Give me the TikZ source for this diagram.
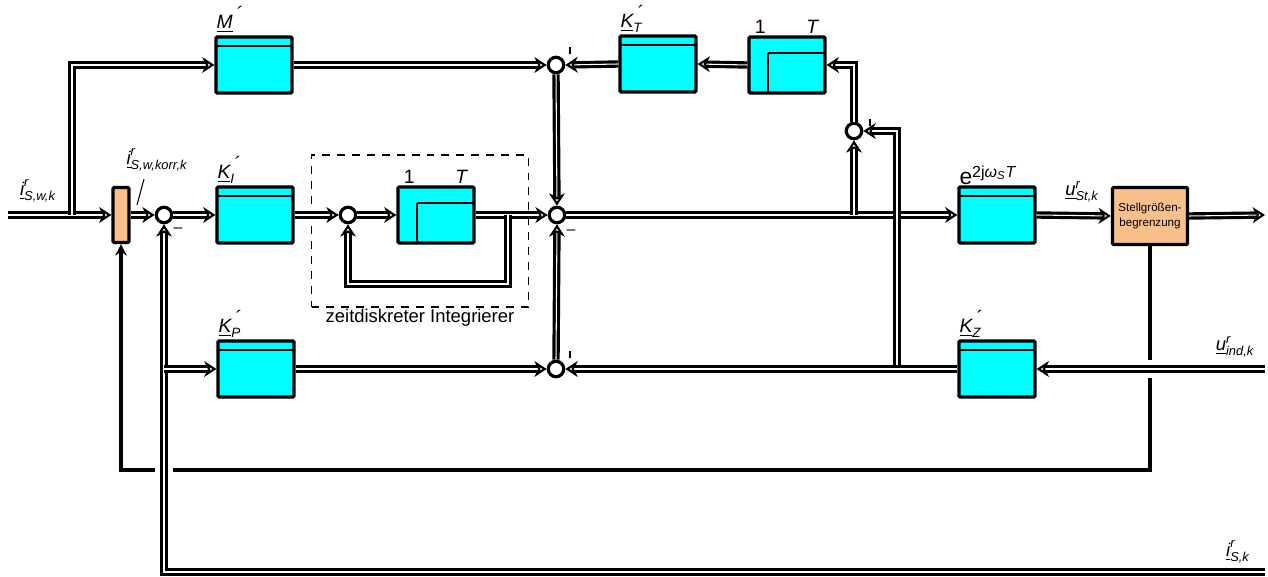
\documentclass[tikz,border=0pt]{standalone}
\usepackage{amsmath}
\usepackage{fontspec}
\setmainfont{Liberation Sans}
\usetikzlibrary{positioning,arrows.meta,calc}

\definecolor{stellor}{RGB}{250,192,140}
\definecolor{blkcyan}{RGB}{0,255,255}
\newcommand{\sgl}[3]{$\underline{\textit{#1}}^{\textit{#2}}_{\textit{#3}}$}
\newcommand{\kpl}[2]{$\underline{\textit{#1}}^{\mbox{\itshape\,´}}_{\textit{#2}}$}

\begin{document}
\begin{tikzpicture}[
  x=0.02cm, y=-0.02cm,
  every node/.style = {font=\fontsize{10.5}{12}\selectfont},
  blk/.style   = {draw, line width=1.8pt, fill=blkcyan, rounded corners=0.6pt,
                  minimum width=1.52cm, minimum height=1.12cm, inner sep=0pt,
                  path picture={\draw[line width=0.9pt]
                    ([yshift=-0.18cm]path picture bounding box.north west) --
                    ([yshift=-0.18cm]path picture bounding box.north east);}},
  dly/.style   = {draw, line width=1.8pt, fill=blkcyan, rounded corners=0.6pt,
                  minimum width=1.52cm, minimum height=1.12cm, inner sep=0pt,
                  label={[anchor=south west, inner sep=1pt, xshift=3pt,
                          font=\fontsize{11}{12}\selectfont]north west:1},
                  label={[anchor=south east, inner sep=1pt, xshift=-3pt,
                          font=\fontsize{11}{12}\selectfont]north east:\textit{T}},
                  path picture={\draw[line width=0.9pt]
                    ([xshift=0.38cm]path picture bounding box.south west) |-
                    ([yshift=-0.32cm]path picture bounding box.north east);}},
  limbox/.style = {draw, line width=1.8pt, fill=stellor, rounded corners=0.6pt,
                  minimum width=0.32cm, minimum height=1.1cm, inner sep=0pt},
  stellbox/.style = {draw, line width=1.8pt, fill=stellor, rounded corners=0.6pt,
                  minimum width=1.5cm, minimum height=1.14cm, inner sep=0pt,
                  align=center, font=\fontsize{6.6}{8.5}\selectfont},
  sum/.style   = {circle, draw, line width=1.8pt, fill=white,
                  minimum size=0.31cm, inner sep=0pt},
  klab/.style  = {anchor=south west, inner sep=1pt, font=\fontsize{11}{12}\selectfont},
  sig/.style   = {double=white, double distance=0.6pt, line width=1.8pt,
                  -{Stealth[open, length=7pt, width=9pt, inset=2.2pt, line width=1.3pt]}},
  fb/.style    = {line width=1.9pt, -{Stealth[length=6.5pt, width=6.5pt]}},
  gap/.style   = {draw=white, line width=3.2pt},
  tick/.style  = {line width=0.6pt}
]
\useasboundingbox (0,0) rectangle (1268,577);

% Bloecke
\node[limbox] (lim) at (121,215) {};
\node[sum] (sA) at (164,215) {};
\node[blk, label={[klab]north west:\kpl{K}{I}}] (kI) at (255,215) {};
\node[sum] (sI) at (348,215) {};
\node[dly] (dI) at (436,215) {};
\node[draw, dashed, dash pattern=on 4.5pt off 4pt, line width=0.6pt,
      minimum width=4.34cm, minimum height=3.04cm,
      label={[inner sep=1pt]below:zeitdiskreter Integrierer}] (intg) at (420,231) {};
\node[sum] (sM) at (557,215) {};
\node[blk, label={[anchor=south west, inner sep=0pt, xshift=1pt,
      font=\fontsize{13}{14}\selectfont]north west:%
      $\text{e}^{\text{2j}\textit{ω}_{\textit{S}}\textit{T}}$}] (eT) at (997,215) {};
\node[stellbox] (stell) at (1150,216) {Stellgrößen-\\begrenzung};

\node[blk, label={[klab]north west:\kpl{M}{}}] (kM) at (254,65) {};
\node[sum] (sT) at (556,65) {};
\node[blk, label={[klab]north west:\kpl{K}{T}}] (kT) at (658,64) {};
\node[dly] (dT) at (787,65) {};
\node[sum] (sR) at (854,131) {};

\node[blk, label={[klab]north west:\kpl{K}{P}}] (kP) at (256,369) {};
\node[sum] (sB) at (556,369) {};
\node[blk, label={[klab]north west:\kpl{K}{Z}}] (kZ) at (997,369) {};

% Signalnamen
\node (lw)    at (38,191)   {\sgl{i}{r}{S,w,k}};
\node (lkorr) at (157,160)  {\sgl{i}{r}{S,w,korr,k}};
\node (lst)   at (1082,192) {\sgl{u}{r}{St,k}};
\node (lind)  at (1235,347) {\sgl{u}{r}{ind,k}};
\node (lis)   at (1238,552) {\sgl{i}{r}{S,k}};
\coordinate (ks1) at (144,179);
\coordinate (ks2) at (137,205);
\draw[line width=0.6pt] (ks1) -- (ks2);

% Vorzeichen
\node[inner sep=0pt, font=\small] (m1) at (178,230) {--};
\node[inner sep=0pt, font=\small] (m2) at (571,232) {--};
\draw[tick] ([shift={(14,-18)}]sT.center) -- ++(0,7);
\draw[tick] ([shift={(14,-18)}]sB.center) -- ++(0,7);
\draw[tick] ([shift={(16,-12)}]sR.center) -- ++(0,7);

% Hilfspunkte
\coordinate (in)   at (8,215);
\coordinate (br1)  at (72,215);
\coordinate (ldp)  at (508,215);
\coordinate (lbt)  at (508,284);
\coordinate (br2)  at (sR |- sM);
\coordinate (br3)  at (897,369);
\coordinate (out)  at (1265,215);
\coordinate (uind) at (1265,369);
\coordinate (isk)  at (1265,572);
\coordinate (iskc) at (sA |- isk);
\coordinate (br4)  at (sA |- kP);
\coordinate (fbc)  at (1150,470);
\coordinate (x1)   at (stell.south |- kZ.east);
\coordinate (x2)   at (sA |- fbc);

% Begrenzungsrueckfuehrung
\draw[fb] (stell.south) -- (fbc) -| (lim.south);
\draw[gap] ($(x1)+(0,-9)$) -- ($(x1)+(0,9)$);
\draw[gap] ($(x2)+(-9,0)$) -- ($(x2)+(9,0)$);

% Signale
\draw[sig] (in) -- (lim.west);
\draw[sig] (br1) |- (kM.west);
\draw[sig] (lim.east) -- (sA.west);
\draw[sig] (sA.east) -- (kI.west);
\draw[sig] (kI.east) -- (sI.west);
\draw[sig] (sI.east) -- (dI.west);
\draw[sig] (dI.east) -- (sM.west);
\draw[sig] (ldp) -- (lbt) -| (sI.south);
\draw[sig] (kM.east) -- (sT.west);
\draw[sig] (kT.west) -- (sT.east);
\draw[sig] (dT.west) -- (kT.east);
\draw[sig] (sR.north) |- (dT.east);
\draw[sig] (sT.south) -- (sM.north);
\draw[sig] (sB.north) -- (sM.south);
\draw[sig] (sM.east) -- (eT.west);
\draw[sig] (br2) -- (sR.south);
\draw[sig] (br3) |- (sR.east);
\draw[sig] (kZ.west) -- (sB.east);
\draw[sig] (kP.east) -- (sB.west);
\draw[sig] (uind) -- (kZ.east);
\draw[sig] (eT.east) -- (stell.west);
\draw[sig] (stell.east) -- (out);
\draw[sig] (isk) -- (iskc) -- (sA.south);
\draw[sig] (br4) -- (kP.west);

\end{tikzpicture}
\end{document}
